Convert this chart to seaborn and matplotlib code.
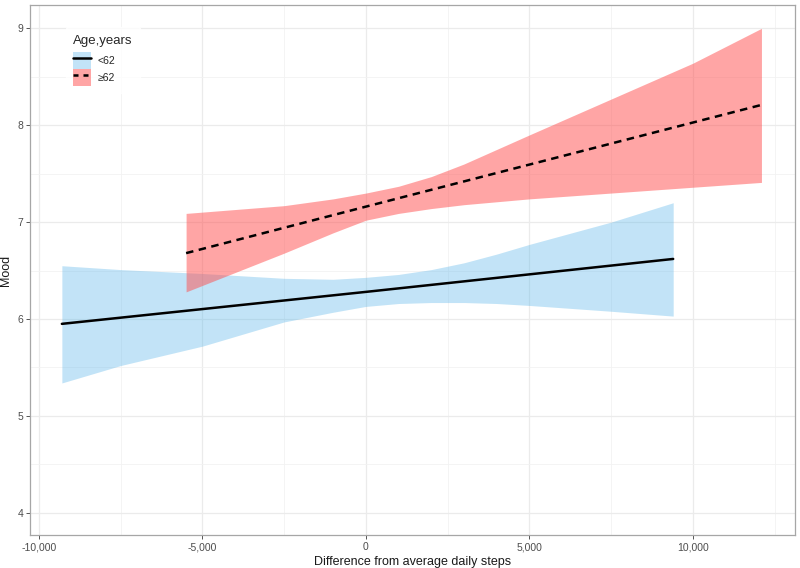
import seaborn as sns
import matplotlib.pyplot as plt
import pandas as pd
from matplotlib.patches import Patch
from matplotlib.lines import Line2D
from matplotlib.ticker import FuncFormatter, MultipleLocator


groups = ["<62", "≥62"]

# age < 62: fitted line and confidence band
young_line_x = [-9300, 0, 9400]
young_line = [5.95, 6.28, 6.62]
young_x = [-9300, -7500, -5000, -4000, -2500, -1000, 0, 1000, 2000, 3000, 4000, 5000, 7500, 9400]
young_lo = [5.34, 5.52, 5.72, 5.82, 5.97, 6.07, 6.13, 6.16, 6.17, 6.17, 6.16, 6.14, 6.08, 6.03]
young_hi = [6.55, 6.51, 6.47, 6.45, 6.42, 6.41, 6.43, 6.46, 6.51, 6.58, 6.67, 6.77, 7.00, 7.20]

# age >= 62
old_line_x = [-5500, 0, 12100]
old_line = [6.68, 7.16, 8.21]
old_x = [-5500, -2500, -1000, 0, 1000, 2000, 3000, 4000, 5000, 7500, 10000, 12100]
old_lo = [6.28, 6.68, 6.89, 7.02, 7.09, 7.14, 7.18, 7.21, 7.24, 7.30, 7.36, 7.41]
old_hi = [7.09, 7.17, 7.24, 7.30, 7.37, 7.47, 7.60, 7.75, 7.90, 8.27, 8.64, 9.00]

lines = pd.concat([
    pd.DataFrame({"steps": young_line_x, "mood": young_line, "age": groups[0]}),
    pd.DataFrame({"steps": old_line_x, "mood": old_line, "age": groups[1]}),
])
bands = {
    groups[0]: (young_x, young_lo, young_hi, "#56B4E9", 0.36),
    groups[1]: (old_x, old_lo, old_hi, "#FF4D4D", 0.5),
}

sns.set_theme(style="white")
plt.rcParams['font.family'] = ['Liberation Sans', 'DejaVu Sans']

fig = plt.figure(figsize=(8, 5.68), dpi=100)
ax = fig.add_axes([0.0375, 0.058, 0.956, 0.933])

for g in groups:
    bx, lo, hi, c, a = bands[g]
    ax.fill_between(bx, lo, hi, color=c, alpha=a, linewidth=0, zorder=2)

sns.lineplot(data=lines, x="steps", y="mood", style="age", color="black",
             dashes={"<62": "", "≥62": (3, 2.2)}, linewidth=1.8,
             legend=False, ax=ax, zorder=3)

ax.set_xlim(-10275, 13120)
ax.set_ylim(3.77, 9.24)
ax.xaxis.set_major_locator(MultipleLocator(5000))
ax.xaxis.set_minor_locator(MultipleLocator(2500))
ax.yaxis.set_major_locator(MultipleLocator(1))
ax.yaxis.set_minor_locator(MultipleLocator(0.5))
ax.xaxis.set_major_formatter(FuncFormatter(lambda v, p: f"{int(v):,}"))
ax.grid(which="major", color="#EBEBEB", linewidth=0.9, zorder=0)
ax.grid(which="minor", color="#F2F2F2", linewidth=0.6, zorder=0)
ax.set_axisbelow(True)
for s in ax.spines.values():
    s.set_color("#A6A6A6")
    s.set_linewidth(0.9)
ax.tick_params(which="major", length=3, width=0.7, color="#555555",
               labelsize=7.5, labelcolor="#4D4D4D", bottom=True, left=True, pad=2)
ax.tick_params(which="minor", length=0)

ax.set_xlabel("Difference from average daily steps", fontsize=9, color="#1A1A1A", labelpad=3)
ax.set_ylabel("Mood", fontsize=9, color="#1A1A1A", labelpad=4)

handles = [
    (Patch(facecolor="#56B4E9", alpha=0.36, linewidth=0), Line2D([], [], color="black", lw=1.8)),
    (Patch(facecolor="#FF4D4D", alpha=0.5, linewidth=0), Line2D([], [], color="black", lw=1.8, dashes=(2, 2))),
]
leg = ax.legend(handles, groups, title="Age,years", loc="upper left",
                bbox_to_anchor=(0.040, 0.968), frameon=True, fontsize=7.5,
                title_fontsize=9.5, handlelength=1.75, handleheight=2.1,
                labelspacing=0.0, handletextpad=0.6, borderpad=0.7)
leg.get_frame().set_facecolor("white")
leg.get_frame().set_edgecolor("white")
leg._legend_box.align = "left"
leg._legend_box.sep = 4

fig.savefig("out.png", dpi=100)
